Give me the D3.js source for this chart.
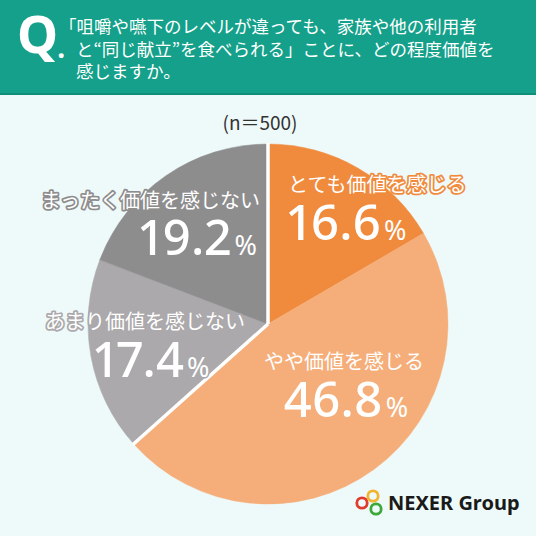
<!DOCTYPE html>
<html><head><meta charset="utf-8">
<script src="https://cdn.jsdelivr.net/npm/d3@7"></script>
<style>html,body{margin:0;padding:0;background:#EEFAF9;}svg{display:block;}</style>
</head><body>
<script>
// ---- data ----
const categories = ["とても価値を感じる", "やや価値を感じる", "あまり価値を感じない", "まったく価値を感じない"];
const values = [16.6, 46.8, 17.4, 19.2];
const groups = ["value", "value", "novalue", "novalue"];
const colors = ["#F08A3C", "#F5AE7A", "#ABA9AB", "#8E8D8E"];
const questionLines = ["「咀嚼や嚥下のレベルが違っても、家族や他の利用者", "と“同じ献立”を食べられる」ことに、どの程度価値を", "感じますか。"];
const sampleLabel = "(n＝500)";

// ---- layout ----
const W = 536, H = 536;
const cx = 268, cy = 324, R = 180;
// label layout: [anchor, catX, catY, numX, numY] relative to centre
const labelLayout = [
  ["start", 20, -132, 20, -84],
  ["middle", 76, 45, 78, 93],
  ["middle", -123, 5, -116, 53],
  ["end", -8, -116, -11, -69]
];

const svg = d3.select("body").append("svg").attr("width", W).attr("height", H);
svg.append("rect").attr("width", W).attr("height", H).attr("fill", "#EEFAF9");

// header
svg.append("rect").attr("x", 0).attr("y", 0).attr("width", W).attr("height", 95).attr("fill", "#14A08A");
svg.append("rect").attr("x", 0).attr("y", 93).attr("width", W).attr("height", 2).attr("fill", "#0E8E79");
const q = svg.append("text").attr("x", 17).attr("y", 53)
  .attr("font-family", "'Noto Sans', 'Noto Sans CJK JP', sans-serif").attr("font-weight", 700)
  .attr("font-size", 52).attr("fill", "#fff");
q.append("tspan").text("Q");
q.append("tspan").attr("font-size", 28).attr("dx", -1).attr("dy", 5).text(".");

questionLines.forEach((t, i) => {
  svg.append("text").attr("x", i === 0 ? 59 : 76).attr("y", 33 + i * 22.5)
    .attr("font-family", "'Noto Sans CJK JP', sans-serif").attr("font-size", 17.5)
    .attr("fill", "#fff").text(t);
});

svg.append("text").attr("x", cx - 8).attr("y", 130).attr("text-anchor", "middle")
  .attr("font-family", "'Noto Sans CJK JP', sans-serif").attr("font-size", 19)
  .attr("fill", "#333").text(sampleLabel);

// pie
const data = categories.map((c, i) => ({ cat: c, value: values[i], group: groups[i], color: colors[i], i }));
const pie = d3.pie().sort(null).value(d => d.value);
const arcs = pie(data);
const arc = d3.arc().innerRadius(0).outerRadius(R);
const g = svg.append("g").attr("transform", `translate(${cx},${cy})`);
g.selectAll("path.slice").data(arcs).join("path").attr("class", "slice")
  .attr("d", arc).attr("fill", d => d.data.color)
  .attr("stroke", d => d.data.color).attr("stroke-width", 0.5);

// white separators between groups
const boundaries = [];
arcs.forEach((a, i) => {
  const prev = arcs[(i - 1 + arcs.length) % arcs.length];
  if (prev.data.group !== a.data.group) boundaries.push(a.startAngle);
});
g.selectAll("line.sep").data(boundaries).join("line").attr("class", "sep")
  .attr("x1", 0).attr("y1", 0)
  .attr("x2", a => Math.sin(a) * (R + 1)).attr("y2", a => -Math.cos(a) * (R + 1))
  .attr("stroke", "#fff").attr("stroke-width", 3.5);

// labels
arcs.forEach((a, i) => {
  const [anchor, tx, ty, nx, ny] = labelLayout[i];
  const col = a.data.color;
  g.append("text").attr("x", tx).attr("y", ty).attr("text-anchor", anchor)
    .attr("font-family", "'Noto Sans CJK JP', sans-serif").attr("font-size", 20)
    .attr("fill", "#fff").attr("stroke", col).attr("stroke-width", 3.5)
    .attr("stroke-linejoin", "round").attr("paint-order", "stroke")
    .text(a.data.cat);
  const n = g.append("text").attr("x", nx).attr("y", ny).attr("text-anchor", anchor)
    .attr("font-family", "'Noto Sans', sans-serif").attr("font-weight", 500)
    .style("font-variant-numeric", "proportional-nums")
    .attr("font-size", 49).attr("fill", "#fff")
    .attr("stroke", col).attr("stroke-width", 3).attr("stroke-linejoin", "round").attr("paint-order", "stroke");
  n.append("tspan").text(a.data.value.toFixed(1));
  n.append("tspan").attr("font-size", 27).attr("font-weight", 400).attr("dx", 3).text("%");
});

// logo
const logo = svg.append("g");
[["#E23B2E", 362, 503], ["#F2B530", 373, 496], ["#3EA93B", 376, 509]].forEach(([c, x, y]) => {
  logo.append("circle").attr("cx", x).attr("cy", y).attr("r", 5.2)
    .attr("fill", "none").attr("stroke", c).attr("stroke-width", 2.8);
});
logo.append("text").attr("x", 388).attr("y", 510)
  .attr("font-family", "'Noto Sans', sans-serif").attr("font-weight", 700)
  .attr("font-size", 20).attr("fill", "#1A1A1A").text("NEXER Group");
</script>
</body></html>
